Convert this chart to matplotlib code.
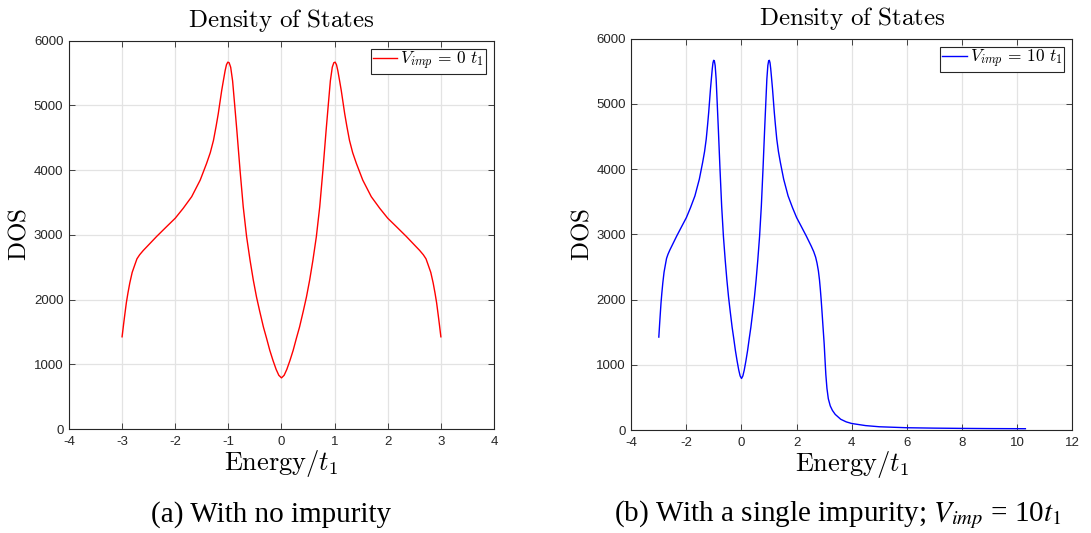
import matplotlib
matplotlib.use("Agg")
import matplotlib.pyplot as plt

# Courbe (a) : sans impureté
energy_a = [-3.0, -2.97, -2.95, -2.92, -2.89, -2.855, -2.81, -2.76, -2.72, -2.67,
            -2.6, -2.53, -2.35, -2.16, -2.0, -1.85, -1.69, -1.53, -1.41, -1.34,
            -1.28, -1.23, -1.19, -1.125, -1.09, -1.06, -1.035, -1.01, -0.985, -0.956,
            -0.92, -0.88, -0.84, -0.78, -0.72, -0.656, -0.59, -0.53, -0.47, -0.41,
            -0.34, -0.28, -0.22, -0.16, -0.1, -0.05, 0.0, 0.05, 0.1, 0.16,
            0.22, 0.28, 0.34, 0.41, 0.47, 0.53, 0.59, 0.656, 0.72, 0.78,
            0.84, 0.88, 0.92, 0.956, 0.985, 1.01, 1.035, 1.06, 1.09, 1.125,
            1.19, 1.23, 1.28, 1.34, 1.41, 1.53, 1.69, 1.85, 2.0, 2.16,
            2.35, 2.53, 2.6, 2.67, 2.72, 2.76, 2.81, 2.855, 2.89, 2.92,
            2.95, 2.97, 3.0]
dos_a = [1425, 1630, 1760, 1950, 2100, 2256, 2420, 2538, 2630, 2692,
         2760, 2820, 2975, 3129, 3257, 3410, 3590, 3846, 4103, 4270,
         4460, 4680, 4871, 5232, 5400, 5540, 5630, 5669, 5660, 5590,
         5380, 5000, 4614, 4000, 3435, 2970, 2600, 2300, 2040, 1820,
         1576, 1400, 1216, 1060, 920, 830, 790, 830, 920, 1060,
         1216, 1400, 1576, 1820, 2040, 2300, 2600, 2970, 3435, 4000,
         4614, 5000, 5380, 5590, 5660, 5669, 5630, 5540, 5400, 5232,
         4871, 4680, 4460, 4270, 4103, 3846, 3590, 3410, 3257, 3129,
         2975, 2820, 2760, 2692, 2630, 2538, 2420, 2256, 2100, 1950,
         1760, 1630, 1425]

# Courbe (b) : une impureté V_imp = 10 t1
energy_b = [-3.0, -2.97, -2.95, -2.92, -2.89, -2.855, -2.81, -2.76, -2.72, -2.67,
            -2.6, -2.53, -2.35, -2.16, -2.0, -1.85, -1.69, -1.53, -1.41, -1.34,
            -1.28, -1.23, -1.19, -1.125, -1.09, -1.06, -1.035, -1.01, -0.985, -0.956,
            -0.92, -0.88, -0.84, -0.78, -0.72, -0.656, -0.59, -0.53, -0.47, -0.41,
            -0.34, -0.28, -0.22, -0.16, -0.1, -0.05, 0.0, 0.05, 0.1, 0.16,
            0.22, 0.28, 0.34, 0.41, 0.47, 0.53, 0.59, 0.656, 0.72, 0.78,
            0.84, 0.88, 0.92, 0.956, 0.985, 1.01, 1.035, 1.06, 1.09, 1.125,
            1.19, 1.23, 1.28, 1.34, 1.41, 1.53, 1.69, 1.85, 2.0, 2.16,
            2.35, 2.53, 2.62, 2.69, 2.74, 2.79, 2.83, 2.86, 2.89, 2.92,
            2.95, 3.0, 3.03, 3.06, 3.1, 3.15, 3.22, 3.3, 3.4, 3.6,
            3.8, 4.0, 4.5, 5.0, 6.0, 7.0, 8.0, 9.0, 10.3]
dos_b = [1425, 1630, 1760, 1950, 2100, 2256, 2420, 2538, 2630, 2692,
         2760, 2820, 2975, 3129, 3257, 3410, 3590, 3846, 4103, 4270,
         4460, 4680, 4871, 5232, 5400, 5540, 5630, 5669, 5660, 5590,
         5380, 5000, 4614, 4000, 3435, 2970, 2600, 2300, 2040, 1820,
         1576, 1400, 1216, 1060, 920, 830, 790, 830, 920, 1060,
         1216, 1400, 1576, 1820, 2040, 2300, 2600, 2970, 3435, 4000,
         4614, 5000, 5380, 5590, 5660, 5669, 5630, 5540, 5400, 5232,
         4871, 4680, 4460, 4270, 4103, 3846, 3590, 3410, 3257, 3129,
         2975, 2820, 2735, 2650, 2560, 2440, 2300, 2160, 2000, 1820,
         1630, 1320, 1080, 850, 640, 480, 370, 300, 240, 165,
         125, 100, 68, 50, 35, 29, 25, 22, 20]

xticks_a = [-4, -3, -2, -1, 0, 1, 2, 3, 4]
xticks_b = [-4, -2, 0, 2, 4, 6, 8, 10, 12]
yticks = [0, 1000, 2000, 3000, 4000, 5000, 6000]

labels = [r'$V_{imp}\,=\,0\ t_1$', r'$V_{imp}\,=\,10\ t_1$']
captions = ['(a) With no impurity', r'(b) With a single impurity; $V_{imp}$ = 10$t_1$']

plt.rcParams['mathtext.fontset'] = 'cm'
plt.rcParams['font.family'] = ['Liberation Sans', 'DejaVu Sans']
plt.rcParams['axes.unicode_minus'] = False

fig = plt.figure(figsize=(10.91, 5.33), dpi=100)
ax1 = fig.add_axes([0.0632, 0.1951, 0.3896, 0.7285])
ax2 = fig.add_axes([0.5786, 0.1932, 0.4042, 0.7342])

dark = '#262626'


def style_axes(ax, xticks, xlim):
    ax.set_xlim(xlim)
    ax.set_ylim(0, 6000)
    ax.set_xticks(xticks)
    ax.set_yticks(yticks)
    ax.grid(True, color='#e3e3e3', linewidth=0.9)
    ax.set_axisbelow(True)
    ax.tick_params(direction='in', top=True, right=True, labelsize=9.5,
                   colors=dark, length=4, width=0.6)
    ax.tick_params(axis='x', pad=5)
    ax.tick_params(axis='y', pad=4)
    for s in ax.spines.values():
        s.set_color(dark)
        s.set_linewidth(0.8)
    ax.set_title(r'$\mathrm{Density\ of\ States}$', fontsize=18, pad=10)
    ax.set_xlabel(r'$\mathrm{Energy}/t_1$', fontsize=19, labelpad=0)
    ax.set_ylabel(r'$\mathrm{DOS}$', fontsize=18, labelpad=2)


ax1.plot(energy_a, dos_a, color='red', linewidth=1.0, label=labels[0])
style_axes(ax1, xticks_a, (-4, 4))
ax2.plot(energy_b, dos_b, color='blue', linewidth=1.0, label=labels[1])
style_axes(ax2, xticks_b, (-4, 12))

for ax in (ax1, ax2):
    leg = ax.legend(loc='upper right', fontsize=12.5, fancybox=False,
                    framealpha=1, edgecolor=dark, handlelength=1.4,
                    handletextpad=0.2, borderpad=0.1, borderaxespad=0.45)
    leg.get_frame().set_linewidth(0.8)

fig.text(0.248, 0.022, captions[0], ha='center', va='baseline',
         family='Liberation Serif', fontsize=21, math_fontfamily='stix')
fig.text(0.768, 0.022, captions[1], ha='center', va='baseline',
         family='Liberation Serif', fontsize=21, math_fontfamily='stix')

fig.savefig('out.png', dpi=100)
